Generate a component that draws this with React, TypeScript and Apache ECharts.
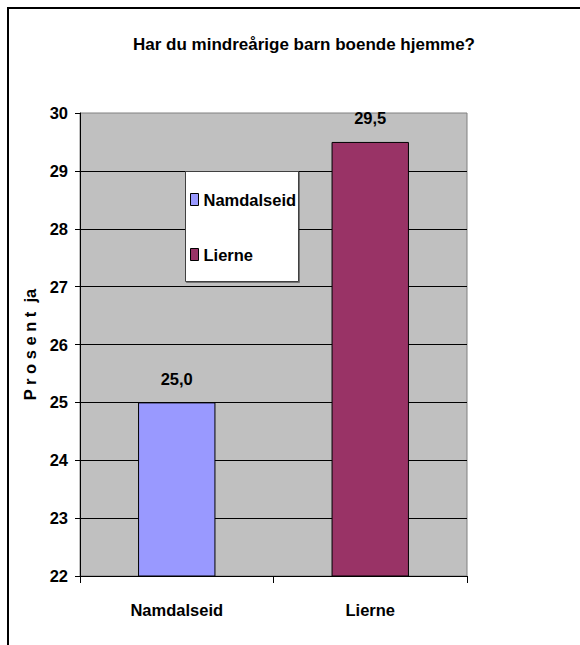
import React, { useEffect, useRef } from "react";
import * as echarts from "echarts";

const categories = ["Namdalseid", "Lierne"];
const seriesNames = ["Namdalseid", "Lierne"];
const values = [25.0, 29.5];
const colors = ["#9999ff", "#993366"];
const titleText = "Har du mindreårige barn boende hjemme?";
const yAxisName = "P r o s e n t  ja";
const yMin = 22;
const yMax = 30;
const yInterval = 1;

const FONT = "'Liberation Sans', Arial, sans-serif";
const FS = 16.5;

export default function App() {
  const ref = useRef<HTMLDivElement>(null);
  useEffect(() => {
    document.body.style.margin = "0";
    const chart = echarts.init(ref.current!, null, { renderer: "svg" });
    const fmt = (p: any) => Number(p.value).toFixed(1).replace(".", ",");
    const series = seriesNames.map((name, i) => ({
      name,
      type: "bar",
      barWidth: "40%",
      barGap: "-100%",
      z: 2,
      itemStyle: { color: colors[i], borderColor: "#000", borderWidth: 1 },
      label: {
        show: true,
        position: "top",
        distance: 15,
        formatter: fmt,
        color: "#000",
        fontFamily: FONT,
        fontWeight: "bold",
        fontSize: FS,
      },
      data: categories.map((_, j) => (j === i ? values[i] : "-")),
    }));
    chart.setOption({
      animation: false,
      backgroundColor: "#fff",
      textStyle: { fontFamily: FONT },
      title: {
        text: titleText,
        left: 299,
        top: 31,
        textAlign: "center",
        textStyle: { fontFamily: FONT, fontWeight: "bold", fontSize: 17, color: "#000" },
      },
      grid: {
        left: 80,
        right: 113,
        top: 113,
        bottom: 69,
        show: true,
        backgroundColor: "#c0c0c0",
        borderColor: "#808080",
        borderWidth: 1,
      },
      legend: {
        orient: "vertical",
        left: 190,
        top: 191,
        itemGap: 38,
        itemWidth: 8,
        itemHeight: 12,
        z: 4,
        padding: 0,
        textStyle: { fontFamily: FONT, fontWeight: "bold", fontSize: FS, color: "#000" },
        data: seriesNames.map((n, i) => ({
          name: n,
          icon: "rect",
          itemStyle: { color: colors[i], borderColor: "#000", borderWidth: 1 },
        })),
      },
      graphic: [
        {
          type: "rect",
          z: 3,
          shape: { x: 185.5, y: 171.5, width: 113, height: 110 },
          style: { fill: "#fff", stroke: "#404040", lineWidth: 1, shadowColor: "rgba(0,0,0,0.4)", shadowOffsetX: 1, shadowOffsetY: 1 },
        },
        {
          type: "line",
          z: 10,
          shape: { x1: 8, y1: 8, x2: 580, y2: 8 },
          style: { stroke: "#000", lineWidth: 2 },
        },
        {
          type: "line",
          z: 10,
          shape: { x1: 8, y1: 7, x2: 8, y2: 645 },
          style: { stroke: "#000", lineWidth: 2 },
        },
      ],
      xAxis: {
        type: "category",
        data: categories,
        axisLine: { lineStyle: { color: "#000", width: 1 } },
        axisTick: { show: true, length: 7, alignWithLabel: false, lineStyle: { color: "#000" } },
        axisLabel: { margin: 25, color: "#000", fontFamily: FONT, fontWeight: "bold", fontSize: FS },
        splitLine: { show: false },
      },
      yAxis: {
        type: "value",
        min: yMin,
        max: yMax,
        interval: yInterval,
        name: yAxisName,
        nameLocation: "middle",
        nameGap: 39,
        nameTextStyle: { color: "#000", fontFamily: FONT, fontWeight: "bold", fontSize: FS },
        axisLine: { show: true, lineStyle: { color: "#000", width: 1 } },
        axisTick: { show: true, length: 5, inside: false, lineStyle: { color: "#000" } },
        axisLabel: { margin: 12, color: "#000", fontFamily: FONT, fontWeight: "bold", fontSize: FS },
        splitLine: { show: true, showMinLine: false, showMaxLine: false, lineStyle: { color: "#000", width: 1 } },
      },
      series,
    });
    return () => chart.dispose();
  }, []);
  return <div ref={ref} style={{ width: 580, height: 645 }} />;
}
